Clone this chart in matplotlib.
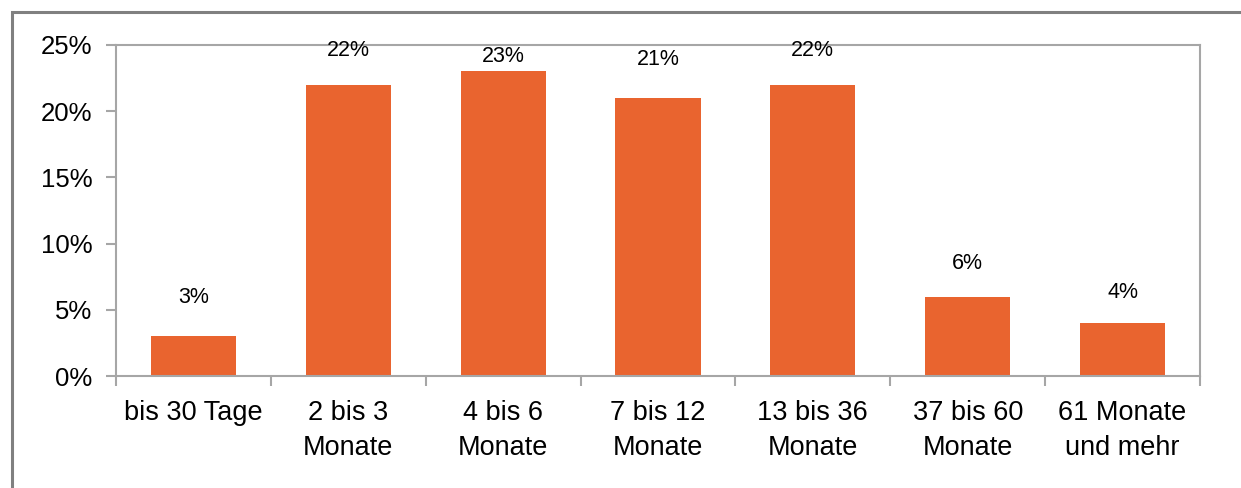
import matplotlib.pyplot as plt
from matplotlib.patches import Rectangle
from matplotlib.ticker import FuncFormatter, FixedLocator

# data
categories = ["bis 30 Tage", "2 bis 3\nMonate", "4 bis 6\nMonate", "7 bis 12\nMonate",
              "13 bis 36\nMonate", "37 bis 60\nMonate", "61 Monate\nund mehr"]
values = [3, 22, 23, 21, 22, 6, 4]
# label offset above bar top (pixels)
label_offsets = [39, 34, 15, 38, 34, 33, 31]

plt.rcParams['font.family'] = ['Liberation Sans', 'DejaVu Sans']

fig = plt.figure(figsize=(12.41, 4.88), dpi=100)
W, H = 1241, 488
ax = fig.add_axes([116 / W, 1 - 376 / H, (1200 - 116) / W, (376 - 45) / H])

bar_color = '#E9642F'
spine_color = '#A6A6A6'

x = range(len(values))
ax.bar(x, values, width=0.55, color=bar_color, zorder=2)

for i, v in enumerate(values):
    ax.annotate(f"{v}%", xy=(i, v), xytext=(0, label_offsets[i] * 0.72),
                textcoords='offset points', ha='center', va='center', fontsize=15.5)

ax.set_xlim(-0.5, len(values) - 0.5)
ax.set_ylim(0, 25)
ax.set_yticks([0, 5, 10, 15, 20, 25])
ax.yaxis.set_major_formatter(FuncFormatter(lambda v, p: f"{int(v)}%"))

ax.set_xticks(list(x))
ax.set_xticklabels(categories, fontsize=19.5, linespacing=1.45)
ax.xaxis.set_minor_locator(FixedLocator([i - 0.5 for i in range(len(values) + 1)]))
ax.tick_params(axis='x', which='major', length=0, pad=17)
ax.tick_params(axis='x', which='minor', length=7, color=spine_color, width=1.5)
ax.tick_params(axis='y', length=7, color=spine_color, width=1.5, labelsize=18.5, pad=10)

for s in ax.spines.values():
    s.set_color(spine_color)
    s.set_linewidth(1.5)

# outer chart border
fig.patches.append(Rectangle((12 / W, -0.05), 1.1, 1 - 12 / H + 0.05, transform=fig.transFigure,
                             fill=False, edgecolor='#808080', linewidth=2.2))

fig.savefig('out.png', dpi=100)
